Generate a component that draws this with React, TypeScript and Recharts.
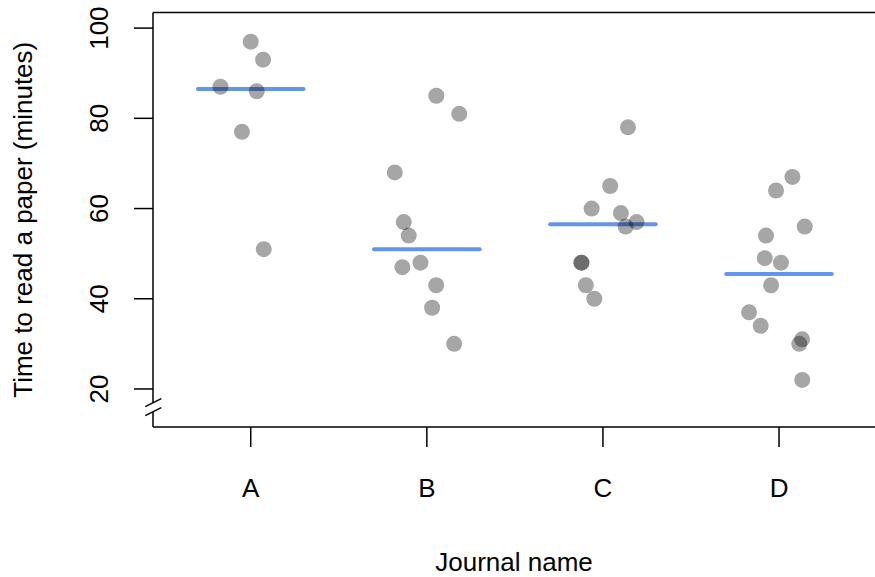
import React from "react"
import {
  ScatterChart,
  Scatter,
  XAxis,
  YAxis,
  ReferenceLine,
} from "recharts"

// journals on the x axis, one jittered strip of reading times per journal
const journals = ["A", "B", "C", "D"]

const timesA = [97, 93, 87, 86, 77, 51]
const jitterA = [0.0, 0.07, -0.172, 0.034, -0.05, 0.074]

const timesB = [85, 81, 68, 57, 54, 47, 48, 43, 38, 30]
const jitterB = [0.054, 0.184, -0.182, -0.131, -0.103, -0.139, -0.036, 0.053, 0.03, 0.155]

const timesC = [78, 65, 60, 59, 57, 56, 48, 48, 43, 40]
const jitterC = [0.142, 0.041, -0.064, 0.102, 0.191, 0.129, -0.123, -0.121, -0.097, -0.049]

const timesD = [67, 64, 56, 54, 49, 48, 43, 37, 34, 31, 30, 22]
const jitterD = [0.076, -0.017, 0.146, -0.074, -0.081, 0.011, -0.045, -0.17, -0.104, 0.131, 0.115, 0.132]

const yTicks = [20, 40, 60, 80, 100]

const W = 875
const H = 577
const PLOT_LEFT = 153
const PLOT_TOP = 12.5
const PLOT_BOTTOM = 427
const Y_DOMAIN: [number, number] = [11.57, 103.46]
const X_DOMAIN: [number, number] = [0.445, 4.545]
const FONT = "'Liberation Sans', Arial, Helvetica, sans-serif"
const FS = 26

const groups = [
  { times: timesA, jitter: jitterA },
  { times: timesB, jitter: jitterB },
  { times: timesC, jitter: jitterC },
  { times: timesD, jitter: jitterD },
]

const median = (v: number[]) => {
  const s = [...v].sort((a, b) => a - b)
  const m = Math.floor(s.length / 2)
  return s.length % 2 ? s[m] : (s[m - 1] + s[m]) / 2
}

const Dot = (props: any) => (
  <circle cx={props.cx} cy={props.cy} r={8} fill="#000" fillOpacity={0.35} />
)

const XTick = (props: any) => (
  <text x={props.x} y={PLOT_BOTTOM + 70} textAnchor="middle" fontSize={FS} fill="#000" fontFamily={FONT}>
    {journals[props.payload.value - 1]}
  </text>
)

const YTick = (props: any) => {
  const x = 108.5
  return (
    <text
      x={x}
      y={props.y}
      transform={`rotate(-90, ${x}, ${props.y})`}
      textAnchor="middle"
      fontSize={FS}
      fill="#000"
      fontFamily={FONT}
    >
      {props.payload.value}
    </text>
  )
}

export default function App() {
  const midY = (PLOT_TOP + PLOT_BOTTOM) / 2
  const midX = (PLOT_LEFT + W) / 2
  return (
    <div style={{ position: "absolute", left: 0, top: 0, width: W, height: H, background: "#fff", fontFamily: FONT }}>
      <ScatterChart width={W} height={H} margin={{ top: PLOT_TOP, right: 0, bottom: 0, left: 0 }}>
        <XAxis
          type="number"
          dataKey="x"
          domain={X_DOMAIN}
          allowDataOverflow
          ticks={[1, 2, 3, 4]}
          height={H - PLOT_BOTTOM}
          tickSize={20}
          tick={<XTick />}
          axisLine={{ stroke: "#000", strokeWidth: 1.5 }}
          tickLine={{ stroke: "#000", strokeWidth: 1.5 }}
          label={{
            value: "Journal name",
            content: () => (
              <text x={midX} y={571} textAnchor="middle" fontSize={FS} fill="#000" fontFamily={FONT}>
                Journal name
              </text>
            ),
          }}
        />
        <YAxis
          type="number"
          dataKey="y"
          domain={Y_DOMAIN}
          allowDataOverflow
          ticks={yTicks}
          width={PLOT_LEFT}
          tickSize={19}
          tick={<YTick />}
          axisLine={{ stroke: "#000", strokeWidth: 1.5 }}
          tickLine={{ stroke: "#000", strokeWidth: 1.5 }}
          label={{
            value: "Time to read a paper (minutes)",
            content: () => (
              <text
                x={32}
                y={midY}
                transform={`rotate(-90, 32, ${midY})`}
                textAnchor="middle"
                fontSize={FS}
                fill="#000"
                fontFamily={FONT}
              >
                Time to read a paper (minutes)
              </text>
            ),
          }}
        />
        <ReferenceLine y={Y_DOMAIN[1]} stroke="#000" strokeWidth={1.5} />
        {groups.map((g, i) => (
          <Scatter
            key={journals[i]}
            name={journals[i]}
            data={g.times.map((t, j) => ({ x: i + 1 + g.jitter[j], y: t }))}
            shape={Dot}
            isAnimationActive={false}
          />
        ))}
        {groups.map((g, i) => (
          <ReferenceLine
            key={`med-${journals[i]}`}
            segment={[
              { x: i + 1 - 0.3, y: median(g.times) },
              { x: i + 1 + 0.3, y: median(g.times) },
            ]}
            stroke="#6495ED"
            strokeWidth={4}
            strokeLinecap="round"
          />
        ))}
      </ScatterChart>
      {/* axis break on the y axis */}
      <svg width={W} height={H} style={{ position: "absolute", left: 0, top: 0, pointerEvents: "none" }}>
        <rect x={PLOT_LEFT - 2} y={402.7} width={4} height={9} fill="#fff" />
        <line x1={145.3} y1={406.7} x2={161.3} y2={398.7} stroke="#000" strokeWidth={1.5} />
        <line x1={145.3} y1={415.7} x2={161.3} y2={407.7} stroke="#000" strokeWidth={1.5} />
      </svg>
    </div>
  )
}
